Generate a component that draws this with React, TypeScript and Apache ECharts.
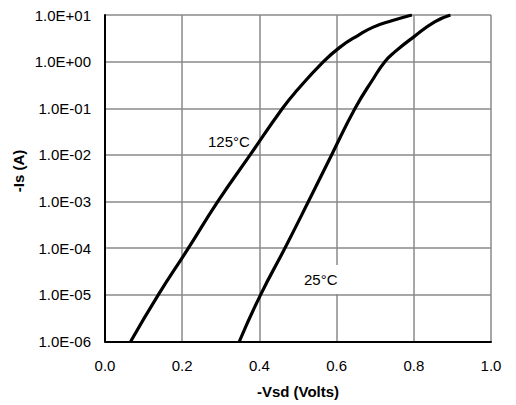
import React, { useEffect, useRef } from "react";
import * as echarts from "echarts";

// Forward voltage (V) vs source current (A) for two junction temperatures
const vsd125: number[] = [0.0665, 0.138, 0.216, 0.292, 0.376, 0.46, 0.497, 0.566, 0.609, 0.656, 0.695, 0.745, 0.795];
const is125: number[] = [1e-6, 1e-5, 1e-4, 1e-3, 1e-2, 1e-1, 0.24, 1, 2.05, 3.67, 5.5, 7.6, 10];

const vsd25: number[] = [0.348, 0.403, 0.466, 0.527, 0.587, 0.648, 0.695, 0.725, 0.75, 0.8, 0.854, 0.895];
const is25: number[] = [1e-6, 1e-5, 1e-4, 1e-3, 1e-2, 1e-1, 0.43, 1, 1.6, 3.4, 7.1, 10];

const xTicks: number[] = [0, 0.2, 0.4, 0.6, 0.8, 1.0];
const yMin = 1e-6;
const yMax = 10;

const FONT = "'Liberation Sans', Arial, sans-serif";

function sciLabel(v: number): string {
  const e = Math.round(Math.log10(v));
  const sign = e < 0 ? "-" : "+";
  return `1.0E${sign}${String(Math.abs(e)).padStart(2, "0")}`;
}

function pairs(xs: number[], ys: number[]): number[][] {
  return xs.map((x, i) => [x, ys[i]]);
}

export default function App() {
  const ref = useRef<HTMLDivElement>(null);

  useEffect(() => {
    if (!ref.current) return;
    const chart = echarts.init(ref.current, null, { renderer: "svg" });
    const gridColor = "#8a8a8a";
    chart.setOption({
      animation: false,
      backgroundColor: "#ffffff",
      grid: { left: 105, right: 25, top: 15, bottom: 63.5, containLabel: false },
      xAxis: {
        type: "value",
        min: xTicks[0],
        max: xTicks[xTicks.length - 1],
        interval: 0.2,
        axisLine: { show: true, onZero: false, lineStyle: { color: "#000", width: 2 } },
        axisTick: { show: false },
        splitLine: { show: true, lineStyle: { color: gridColor, width: 1.5 } },
        axisLabel: {
          color: "#000",
          fontFamily: FONT,
          fontSize: 15,
          margin: 16,
          formatter: (v: number) => v.toFixed(1),
        },
        name: "-Vsd (Volts)",
        nameLocation: "middle",
        nameGap: 42,
        nameTextStyle: { color: "#000", fontFamily: FONT, fontSize: 15, fontWeight: "bold" },
      },
      yAxis: {
        type: "log",
        logBase: 10,
        min: yMin,
        max: yMax,
        axisLine: { show: true, lineStyle: { color: "#000", width: 2 } },
        axisTick: { show: false },
        minorTick: { show: false },
        splitLine: { show: true, lineStyle: { color: gridColor, width: 1.5 } },
        axisLabel: {
          color: "#000",
          fontFamily: FONT,
          fontSize: 15,
          margin: 14,
          formatter: (v: number) => sciLabel(v),
        },
      },
      graphic: [
        {
          type: "text",
          x: 18,
          y: 171,
          rotation: Math.PI / 2,
          style: {
            text: "-Is (A)",
            fill: "#000",
            font: `bold 15px ${FONT}`,
            align: "center",
            verticalAlign: "middle",
          },
        },
        {
          type: "text",
          x: 208,
          y: 141,
          style: {
            text: "125°C",
            fill: "#000",
            font: `15px ${FONT}`,
            align: "left",
            verticalAlign: "middle",
          },
        },
        {
          type: "rect",
          shape: { x: 300, y: 265, width: 55, height: 29 },
          style: { fill: "#ffffff" },
          z: 10,
        },
        {
          type: "text",
          x: 304,
          y: 279,
          z: 11,
          style: {
            text: "25°C",
            fill: "#000",
            font: `15px ${FONT}`,
            align: "left",
            verticalAlign: "middle",
          },
        },
      ],
      series: [
        {
          name: "125°C",
          type: "line",
          data: pairs(vsd125, is125),
          smooth: 0.5,
          showSymbol: false,
          symbol: "none",
          lineStyle: { color: "#000", width: 3.2 },
          z: 5,
        },
        {
          name: "25°C",
          type: "line",
          data: pairs(vsd25, is25),
          smooth: 0.5,
          showSymbol: false,
          symbol: "none",
          lineStyle: { color: "#000", width: 3.2 },
          z: 5,
        },
      ],
    });
    return () => chart.dispose();
  }, []);

  return <div ref={ref} style={{ width: 516, height: 405, position: "absolute", left: 0, top: 0 }} />;
}
